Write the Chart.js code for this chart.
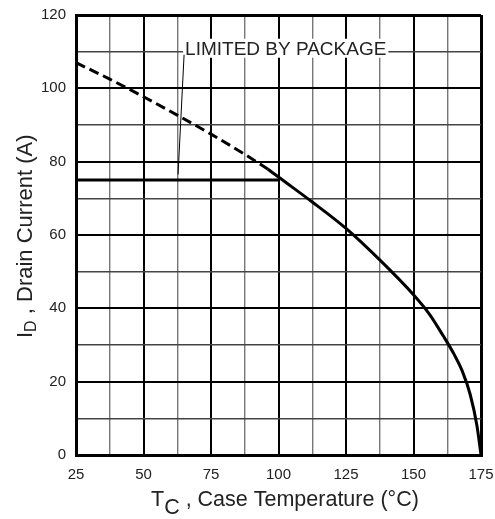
<!DOCTYPE html>
<html>
<head>
<meta charset="UTF-8">
<title>Drain Current vs Case Temperature</title>
<script src="https://cdn.jsdelivr.net/npm/chart.js"></script>
<style>
  html, body { margin: 0; padding: 0; background: #fff; }
  #wrap { width: 495px; height: 519px; }
</style>
</head>
<body>
<div id="wrap"><canvas id="derating"></canvas></div>
<script>
// values
const limitTemp = [25, 100];
const limitCurrent = [75, 75];

const dashTemp = [25, 37.5, 50, 62.5, 75, 87.5, 96];
const dashCurrent = [107, 102.5, 97.7, 92.7, 87.5, 82, 78];

const solidTemp = [96, 100, 112.5, 125, 137.5, 150, 156, 161, 165, 168, 171, 173.5, 175];
const solidCurrent = [78, 75.8, 69, 61.8, 53.2, 43.7, 38.3, 32.5, 27.5, 23, 16.5, 8, 0];

const xMajor = [25, 50, 75, 100, 125, 150, 175];
const yMajor = [0, 20, 40, 60, 80, 100, 120];

// label "LIMITED BY PACKAGE": text anchor and leader end, in data units
const noteText = 'LIMITED BY PACKAGE';
const noteAt = [65.4, 110.8];
const noteTip = [62.8, 76.5];

const pts = (xs, ys) => xs.map((x, i) => ({ x: x, y: ys[i] }));

const FONT = '"Liberation Sans", Arial, sans-serif';

// axis titles with subscripts + the annotation
const extras = {
  id: 'extras',
  afterDraw(chart) {
    const c = chart.ctx;
    const xs = chart.scales.x, ys = chart.scales.y;
    c.save();
    c.fillStyle = '#222';
    c.textBaseline = 'alphabetic';

    // x title
    c.font = '21.5px ' + FONT;
    c.textAlign = 'left';
    let x = 151;
    c.fillText('T', x, 506);
    x += c.measureText('T').width;
    c.fillText('C', x, 514);
    x += c.measureText('C').width;
    c.fillText(' , Case Temperature (°C)', x, 506);

    // y title
    c.translate(32, 338);
    c.rotate(-Math.PI / 2);
    c.font = '22px ' + FONT;
    let y = 0;
    c.fillText('I', y, 0);
    y += c.measureText('I').width;
    c.font = '16px ' + FONT;
    c.fillText('D', y, 4);
    y += c.measureText('D').width;
    c.font = '22px ' + FONT;
    c.fillText(' , Drain Current (A)', y, 0);
    c.restore();

    // annotation
    c.save();
    const tx = xs.getPixelForValue(noteAt[0]);
    const ty = ys.getPixelForValue(noteAt[1]);
    c.font = '19px ' + FONT;
    const w = c.measureText(noteText).width;
    c.fillStyle = '#fff';
    c.fillRect(tx - 2, ty - 10, w + 4, 19);
    c.fillStyle = '#222';
    c.textAlign = 'left';
    c.textBaseline = 'middle';
    c.fillText(noteText, tx, ty + 1);
    c.strokeStyle = '#000';
    c.lineWidth = 1;
    c.beginPath();
    c.moveTo(tx - 1, ty + 6);
    c.lineTo(xs.getPixelForValue(noteTip[0]), ys.getPixelForValue(noteTip[1]));
    c.stroke();
    c.restore();
  }
};

const gridColor = (majors, minorCol) => ctx => majors.includes(ctx.tick.value) ? '#000' : minorCol;
const gridWidth = (majors, lo, hi) => ctx => {
  const v = ctx.tick.value;
  if (v === lo || v === hi) return 3;
  return majors.includes(v) ? 2 : 1.4;
};

new Chart(document.getElementById('derating'), {
  type: 'line',
  data: {
    datasets: [
      {
        data: pts(limitTemp, limitCurrent),
        borderColor: '#000', borderWidth: 3, pointRadius: 0, tension: 0
      },
      {
        data: pts(dashTemp, dashCurrent),
        borderColor: '#000', borderWidth: 3, borderDash: [10, 5], pointRadius: 0,
        cubicInterpolationMode: 'monotone'
      },
      {
        data: pts(solidTemp, solidCurrent),
        borderColor: '#000', borderWidth: 3, pointRadius: 0,
        cubicInterpolationMode: 'monotone'
      }
    ]
  },
  options: {
    responsive: true,
    maintainAspectRatio: false,
    animation: false,
    layout: { padding: { top: 15, right: 14, bottom: 0, left: 0 } },
    plugins: { legend: { display: false }, tooltip: { enabled: false } },
    scales: {
      x: {
        type: 'linear', min: 25, max: 175,
        afterFit(s) { s.height = 64; s.paddingLeft = 0; s.paddingRight = 0; },
        ticks: {
          stepSize: 12.5, autoSkip: false, maxRotation: 0, padding: 11,
          color: '#222', font: { size: 15, family: FONT },
          callback: v => xMajor.includes(v) ? String(v) : ''
        },
        grid: { drawTicks: false, color: gridColor(xMajor, '#777'), lineWidth: gridWidth(xMajor, 25, 175) },
        border: { color: '#000', width: 3 }
      },
      y: {
        min: 0, max: 120,
        afterFit(s) { s.width = 76; s.paddingTop = 0; s.paddingBottom = 0; },
        ticks: {
          stepSize: 10, autoSkip: false, padding: 10,
          color: '#222', font: { size: 15, family: FONT },
          callback: v => yMajor.includes(v) ? String(v) : ''
        },
        grid: { drawTicks: false, color: gridColor(yMajor, '#444'), lineWidth: gridWidth(yMajor, 0, 120) },
        border: { color: '#000', width: 3 }
      }
    }
  },
  plugins: [extras]
});
</script>
</body>
</html>
